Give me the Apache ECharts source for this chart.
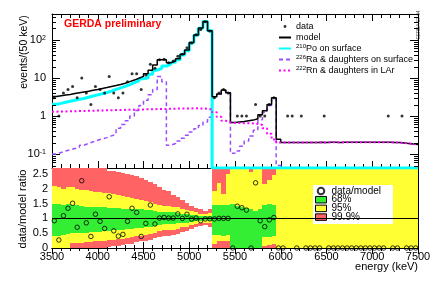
<!DOCTYPE html>
<html><head><meta charset="utf-8">
<script src="https://cdn.jsdelivr.net/npm/echarts@6/dist/echarts.min.js"></script>
<style>html,body{margin:0;padding:0;background:#fff}#c{width:440px;height:281px}</style>
</head><body><div id="c"></div>
<script>
const BIN_START = 3500, BIN_WIDTH = 50, N_BINS = 80;
const Y_MIN = 0.043, Y_MAX = 480;
const FONT = 'Liberation Sans';

const model = [3.25,3.4,3.55,3.7,3.9,4.1,4.3,4.5,4.75,5.0,
 5.3,5.6,5.95,6.3,6.7,7.3,8.0,8.8,9.8,11,
 13,16,22,30,30,25,28,32,42,54,
 85,135,205,305,175,3.2,3.8,4.8,4.1,0.68,
 0.70,0.72,0.75,0.78,0.85,1.08,1.38,2.0,3.0,0.245,
 0.2,0.2,0.2,0.2,0.2,0.2,0.2,0.2,0.205,0.2,
 0.205,0.205,0.2,0.205,0.205,0.205,0.205,0.205,0.205,0.205,
 0.205,0.205,0.205,0.205,0.2,0.2,0.195,0.19,0.183,0.178];
const po210 = [2.05,2.15,2.3,2.45,2.6,2.75,2.9,3.1,3.35,3.6,
 3.85,4.15,4.5,5.0,5.5,6.0,6.7,7.5,8.4,9.6,
 10.0,12.5,16,18,20.5,23,26,30,40,52,
 83,133,203,303,173,0,0,0,0,0,
 0,0,0,0,0,0,0,0,0,0,
 0,0,0,0,0,0,0,0,0,0,
 0,0,0,0,0,0,0,0,0,0,
 0,0,0,0,0,0,0,0,0,0];
const ra226 = [0.10,0.11,0.12,0.13,0.14,0.15,0.17,0.19,0.21,0.23,
 0.25,0.27,0.30,0.33,0.48,0.60,0.75,1.0,1.4,1.9,
 2.6,3.6,5.0,11,8,0.17,0.19,0.22,0.26,0.31,
 0.38,0.46,0.56,0.70,0.93,3.1,3.7,4.6,4.0,0.105,
 0.12,0.16,0.22,0.30,0.42,0.8,1.25,1.9,2.9,0.05,
 0,0,0,0,0,0,0,0,0,0,
 0,0,0,0,0,0,0,0,0,0,
 0,0,0,0,0,0,0,0,0,0];
const rn222 = [1.30,1.31,1.32,1.33,1.34,1.35,1.36,1.37,1.38,1.39,
 1.40,1.41,1.42,1.43,1.44,1.45,1.46,1.47,1.48,1.49,
 1.50,1.51,1.52,1.53,1.54,1.55,1.56,1.57,1.58,1.58,
 1.59,1.59,1.58,1.55,1.48,1.25,0.95,0.75,0.68,0.66,
 0.66,0.65,0.65,0.64,0.62,0.58,0.48,0.34,0.24,0.20,
 0.2,0.2,0.2,0.2,0.2,0.2,0.2,0.2,0.205,0.2,
 0.205,0.205,0.2,0.205,0.205,0.205,0.205,0.205,0.205,0.205,
 0.205,0.205,0.205,0.205,0.2,0.2,0.195,0.19,0.183,0.178];
const counts = [3,1,4,5,6,3,10,4,2,6,
 5,4,11,4,3,4,8,13,13,5,
 12,23,18,30,31,25,28,37,42,62,
 83,136,189,299,172,3,4,5,4,0,
 1,1,1,0,2,1,1,2,3,0,
 0,1,1,0,1,0,0,0,0,1,
 0,0,0,0,0,0,0,0,0,0,
 0,0,0,1,0,0,1,0,0,0];
const ratio = [0.92,0.27,1.09,1.34,1.51,0.70,2.27,0.85,0.39,1.14,
 0.90,0.66,1.73,0.58,0.40,0.46,0.90,1.34,1.20,0.39,
 0.83,1.45,0.81,1.01,1.03,1.01,1.01,1.15,1.00,1.14,
 0.98,1.01,0.92,0.98,0.98,0.98,1.00,1.00,1.00,0,
 1.41,1.36,1.28,0,2.20,0.92,0.72,0.95,1.03,0,
 0,null,null,0,null,0,0,0,0,null,
 0,0,0,0,0,0,0,0,0,0,
 0,0,0,null,0,0,null,0,0,0];
const g68Lo = [.42,.42,.45,.48,.50,.50,.50,.52,.53,.55,
 .55,.57,.58,.60,.60,.62,.63,.65,.67,.68,
 .70,.72,.75,.78,.80,.80,.81,.83,.85,.86,
 .88,.90,.92,.93,.91,.45,.45,.42,.45,0,
 0,0,0,0,0,0,.36,.36,.40,0,
 0,0,0,0,0,0,0,0,0,0,
 0,0,0,0,0,0,0,0,0,0,
 0,0,0,0,0,0,0,0,0,0];
const g68Hi = [1.50,1.47,1.45,1.48,1.45,1.45,1.42,1.40,1.40,1.40,
 1.38,1.38,1.36,1.35,1.35,1.33,1.32,1.32,1.30,1.30,
 1.28,1.27,1.25,1.22,1.20,1.20,1.20,1.18,1.16,1.14,
 1.12,1.10,1.08,1.07,1.09,1.45,1.45,1.45,1.45,1.47,
 1.43,1.39,1.35,1.30,1.25,1.30,1.45,1.50,1.45,0,
 0,0,0,0,0,0,0,0,0,0,
 0,0,0,0,0,0,0,0,0,0,
 0,0,0,0,0,0,0,0,0,0];
const b95Lo = [0,0,0,0,.18,.18,.18,.20,.20,.22,
 .22,.25,.26,.28,.30,.32,.35,.38,.40,.42,
 .45,.48,.52,.57,.60,.60,.62,.65,.70,.72,
 .76,.80,.84,.86,.83,.15,.22,.22,.22,0,
 0,0,0,0,0,0,.08,.10,.12,0,
 0,0,0,0,0,0,0,0,0,0,
 0,0,0,0,0,0,0,0,0,0,
 0,0,0,0,0,0,0,0,0,0];
const b95Hi = [2.10,2.05,2.00,2.05,2.05,2.00,1.95,1.95,1.92,1.90,
 1.88,1.85,1.85,1.82,1.80,1.75,1.72,1.70,1.65,1.62,
 1.58,1.55,1.50,1.45,1.42,1.42,1.40,1.37,1.32,1.28,
 1.24,1.20,1.16,1.14,1.17,1.94,2.20,1.82,2.50,3,
 3,3,3,2.55,3,3,2.16,2.30,2.45,3,
 3,3,3,3,3,3,3,3,3,3,
 3,3,3,3,3,3,3,3,3,3,
 3,3,3,3,3,3,3,3,3,3];
const r999Lo = [0,0,0,0,0,0,0,0,0,0,
 0,0,0.05,0.06,0.08,0.10,0.12,0.15,0.20,0.22,
 0.25,0.28,0.33,0.38,0.42,0.42,0.44,0.48,0.55,0.58,
 0.64,0.70,0.74,0.77,0.72,0,0,0,0,0,
 0,0,0,0,0,0,0,0,0,0,
 0,0,0,0,0,0,0,0,0,0,
 0,0,0,0,0,0,0,0,0,0,
 0,0,0,0,0,0,0,0,0,0];
const r999Hi = [3,3,3,3,3,3,3,3,3,3,
 3,3,2.61,2.60,2.58,2.53,2.50,2.45,2.42,2.35,
 2.30,2.22,2.15,2.05,1.97,1.92,1.80,1.72,1.62,1.52,
 1.42,1.36,1.30,1.25,1.30,3,3,3,3,3,
 3,3,3,3,3,3,3,3,3,3,
 3,3,3,3,3,3,3,3,3,3,
 3,3,3,3,3,3,3,3,3,3,
 3,3,3,3,3,3,3,3,3,3];
const logMinorTicks = [0.05,0.06,0.07,0.08,0.09,0.2,0.3,0.4,0.5,0.6,0.7,0.8,0.9,
 2,3,4,5,6,7,8,9,20,30,40,50,60,70,80,90,200,300,400];
const legendText = {
  data: 'data', model: 'model',
  Po: '{s|210}Po on surface',
  Ra: '{s|226}Ra & daughters on surface',
  Rn: '{s|222}Rn & daughters in LAr'
};

const edges = [];
for (let i = 0; i <= N_BINS; i++) edges.push(BIN_START + BIN_WIDTH * i);
const E_END = edges[N_BINS];

function stepPts(vals) {
  const pts = vals.map((v, i) => [edges[i], v == null ? null : (v <= 0 ? Y_MIN : v)]);
  pts.push([E_END, pts[N_BINS - 1][1]]);
  return pts;
}
function lineSeries(name, vals, color, width, type, z) {
  return { name, type: 'line', step: 'end', xAxisIndex: 0, yAxisIndex: 0, symbol: 'none', z,
    data: stepPts(vals), clip: true, animation: false,
    lineStyle: { color, width, type }, itemStyle: { color } };
}
function bandSeries(name, lo, hi, color, z) {
  return {
    name, type: 'custom', xAxisIndex: 2, yAxisIndex: 2, z, animation: false,
    itemStyle: { color }, encode: { x: 0, y: [1, 2] },
    data: lo.map((l, i) => [edges[i], l, hi[i]]),
    renderItem(params, api) {
      const x0 = api.value(0), l = api.value(1), h = api.value(2);
      if (!(h > l)) return null;
      const cs = params.coordSys;
      const p0 = api.coord([x0, h]), p1 = api.coord([x0 + BIN_WIDTH, l]);
      const X0 = Math.round(p0[0]), X1 = Math.round(p1[0]);
      const Y0 = Math.round(Math.max(p0[1], cs.y)), Y1 = Math.round(Math.min(p1[1], cs.y + cs.height));
      if (Y1 <= Y0) return null;
      return { type: 'rect', shape: { x: X0, y: Y0, width: X1 - X0, height: Y1 - Y0 }, style: { fill: color } };
    }
  };
}
function logLabel(v) {
  const lg = Math.log10(v), e = Math.round(lg);
  if (Math.abs(lg - e) > 1e-6) return '';
  if (e === 0) return '1';
  if (e === 1) return '10';
  return '10{s|' + e + '}';
}

const axisLineBlack = { show: true, lineStyle: { color: '#000', width: 1 } };
function xAx(gridIndex, position, labels, tickLen) {
  return { type: 'value', gridIndex, position, min: BIN_START, max: E_END, interval: 500,
    axisLine: axisLineBlack, splitLine: { show: false },
    axisTick: { show: true, inside: true, length: tickLen, lineStyle: { color: '#000' } },
    minorTick: { show: true, splitNumber: 5, length: Math.round(tickLen / 2), lineStyle: { color: '#000' } },
    axisLabel: labels ? { show: true, color: '#000', fontFamily: FONT, fontSize: 11, margin: 3,
      formatter: v => String(v) } : { show: false } };
}

const DOT_ICON = 'path://M0,0h0.01M10,10h0.01M3.2,5a1.8,1.8 0 1,0 3.6,0a1.8,1.8 0 1,0 -3.6,0';
const NO_SYM = { opacity: 0 };

const chart = echarts.init(document.getElementById('c'), null, { renderer: 'canvas' });
chart.setOption({
  animation: false,
  backgroundColor: '#fff',
  title: { text: 'GERDA preliminary', left: 64, top: 19, padding: 0,
    textStyle: { color: '#ff0000', fontSize: 10.5, fontWeight: 'bold', fontFamily: FONT } },
  grid: [
    { left: 52, right: 22, top: 14, height: 154 },
    { left: 52, right: 22, top: 168, height: 80 }
  ],
  xAxis: [ xAx(0, 'bottom', false, 7), xAx(0, 'top', false, 7), xAx(1, 'bottom', true, 6), xAx(1, 'top', false, 6) ],
  yAxis: [
    { type: 'log', logBase: 10, gridIndex: 0, position: 'left', min: Y_MIN, max: Y_MAX,
      axisLine: axisLineBlack, splitLine: { show: false },
      axisTick: { show: true, inside: true, length: 8, lineStyle: { color: '#000' } },
      axisLabel: { show: true, formatter: logLabel, showMinLabel: false, showMaxLabel: false, margin: 6,
        color: '#000', fontFamily: FONT, fontSize: 11,
        rich: { s: { fontSize: 7, verticalAlign: 'top', fontFamily: FONT, color: '#000' } } } },
    { type: 'log', logBase: 10, gridIndex: 0, position: 'right', min: Y_MIN, max: Y_MAX,
      axisLine: axisLineBlack, splitLine: { show: false },
      axisTick: { show: true, inside: true, length: 8, lineStyle: { color: '#000' } },
      axisLabel: { show: false } },
    { type: 'value', gridIndex: 1, position: 'left', min: 0, max: 2.7, interval: 0.5,
      axisLine: axisLineBlack, splitLine: { show: false },
      axisTick: { show: true, inside: true, length: 6, lineStyle: { color: '#000' } },
      minorTick: { show: true, splitNumber: 5, length: 3, lineStyle: { color: '#000' } },
      axisLabel: { show: true, showMaxLabel: false, margin: 4, color: '#000', fontFamily: FONT, fontSize: 11 } },
    { type: 'value', gridIndex: 1, position: 'right', min: 0, max: 2.7, interval: 0.5,
      axisLine: axisLineBlack, splitLine: { show: false },
      axisTick: { show: true, inside: true, length: 6, lineStyle: { color: '#000' } },
      minorTick: { show: true, splitNumber: 5, length: 3, lineStyle: { color: '#000' } },
      axisLabel: { show: false } }
  ],
  legend: [
    { data: [{ name: 'data', icon: DOT_ICON },
             { name: 'model', itemStyle: NO_SYM }, { name: 'Po', itemStyle: NO_SYM },
             { name: 'Ra', itemStyle: NO_SYM }, { name: 'Rn', itemStyle: NO_SYM }],
      orient: 'vertical', left: 278, top: 21, padding: 0, itemGap: 0, itemWidth: 12, itemHeight: 8,
      selectedMode: false, formatter: n => legendText[n],
      textStyle: { fontFamily: FONT, fontSize: 9, color: '#000', lineHeight: 11,
        rich: { s: { fontSize: 6, verticalAlign: 'top', fontFamily: FONT, color: '#000', lineHeight: 11 } } } },
    { data: [ { name: 'data/model', icon: 'circle' },
              { name: '68%', icon: 'rect', itemStyle: { borderColor: '#000', borderWidth: 1 } },
              { name: '95%', icon: 'rect', itemStyle: { borderColor: '#000', borderWidth: 1 } },
              { name: '99.9%', icon: 'rect', itemStyle: { borderColor: '#000', borderWidth: 1 } } ],
      orient: 'vertical', left: 313, top: 185, padding: [1, 12, 2, 2], itemGap: -1.3,
      itemWidth: 11, itemHeight: 6.5, backgroundColor: '#fff', selectedMode: false,
      textStyle: { fontFamily: FONT, fontSize: 10, color: '#000', lineHeight: 8 } }
  ],
  graphic: [
    { type: 'text', x: 24, y: 52, rotation: Math.PI / 2,
      style: { text: 'events/(50 keV)', fontFamily: FONT, fontSize: 10.5, fill: '#000', textAlign: 'center', textVerticalAlign: 'middle' } },
    { type: 'text', x: 23, y: 209, rotation: Math.PI / 2,
      style: { text: 'data/model ratio', fontFamily: FONT, fontSize: 11, fill: '#000', textAlign: 'center', textVerticalAlign: 'middle' } },
    { type: 'text', x: 418, y: 267,
      style: { text: 'energy (keV)', fontFamily: FONT, fontSize: 11, fill: '#000', textAlign: 'right', textVerticalAlign: 'middle' } },
    { type: 'text', x: 418.5, y: 25, rotation: Math.PI / 2,
      style: { text: 'GERDA 13-04', fontFamily: FONT, fontSize: 4.5, fill: '#555', textAlign: 'center', textVerticalAlign: 'middle' } }
  ],
  series: [
    lineSeries('Ra', ra226, '#9d4dff', 1.5, [4, 3], 2),
    lineSeries('Po', po210, '#00ffff', 3, 'solid', 3),
    lineSeries('model', model, '#000000', 1.5, 'solid', 4),
    lineSeries('Rn', rn222, '#ff00ff', 2, [2, 2.5], 5),
    { name: 'data', type: 'scatter', xAxisIndex: 0, yAxisIndex: 0, z: 6, symbol: 'circle', symbolSize: 3,
      itemStyle: { color: '#000' },
      data: counts.map((c, i) => c > 0 ? [edges[i] + BIN_WIDTH / 2, c] : null).filter(p => p) },
    { name: 'logMinor', type: 'custom', xAxisIndex: 0, yAxisIndex: 0, z: 7, silent: true,
      encode: { x: 0, y: 1 }, data: logMinorTicks.map(v => [BIN_START, v]),
      renderItem(params, api) {
        const cs = params.coordSys;
        const y = Math.round(api.coord([api.value(0), api.value(1)])[1]) + 0.5;
        return { type: 'group', children: [
          { type: 'line', shape: { x1: cs.x, y1: y, x2: cs.x + 4, y2: y }, style: { stroke: '#000', lineWidth: 1 } },
          { type: 'line', shape: { x1: cs.x + cs.width - 4, y1: y, x2: cs.x + cs.width, y2: y }, style: { stroke: '#000', lineWidth: 1 } }
        ] };
      } },
    bandSeries('99.9%', r999Lo, r999Hi, '#ff6363', 1),
    bandSeries('95%', b95Lo, b95Hi, '#ffff33', 2),
    bandSeries('68%', g68Lo, g68Hi, '#33ee33', 3),
    { name: 'data/model', type: 'scatter', xAxisIndex: 2, yAxisIndex: 2, z: 5, symbol: 'circle', symbolSize: 4.5,
      itemStyle: { color: 'rgba(0,0,0,0)', borderColor: '#000', borderWidth: 1 },
      data: ratio.map((r, i) => r == null ? null : [edges[i] + BIN_WIDTH / 2, r]).filter(p => p),
      markLine: { silent: true, symbol: 'none', animation: false, label: { show: false },
        lineStyle: { color: '#000', width: 1, type: 'solid' }, data: [{ yAxis: 1 }] } }
  ]
});
</script></body></html>
